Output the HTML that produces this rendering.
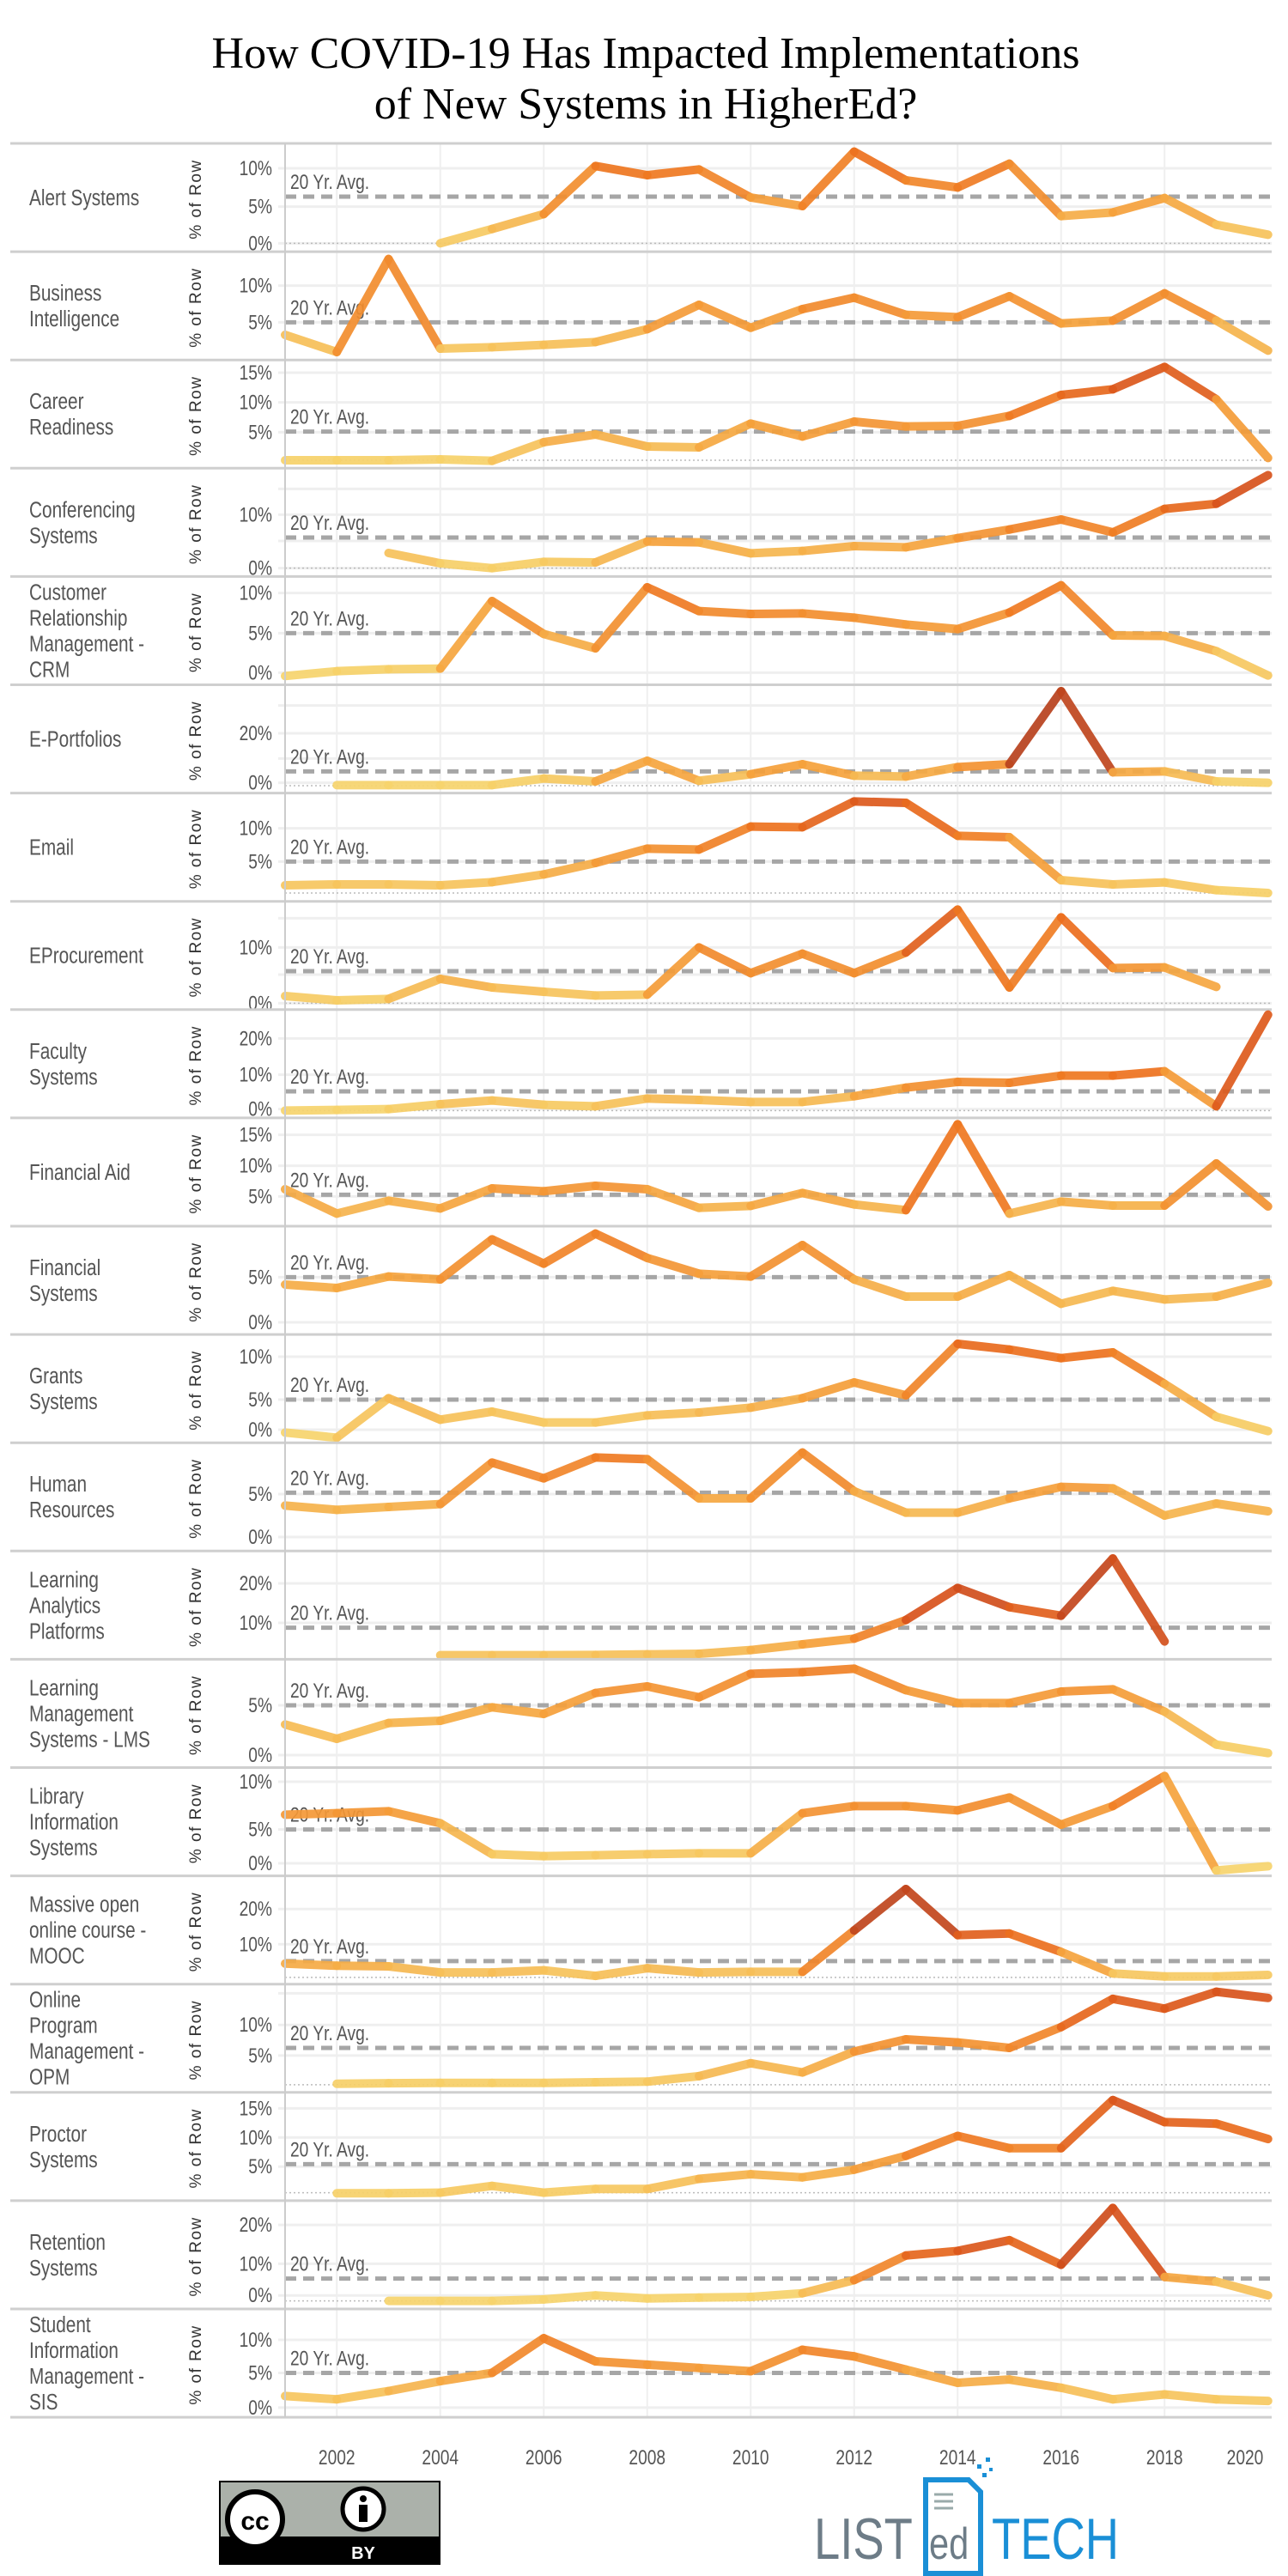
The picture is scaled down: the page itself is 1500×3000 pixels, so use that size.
<!DOCTYPE html>
<html><head><meta charset="utf-8"><style>
html,body{margin:0;padding:0;background:#fff;}
svg{display:block;}
</style></head><body>
<svg id="s" xmlns="http://www.w3.org/2000/svg" width="1500" height="3000" viewBox="0 0 1500 3000">
<rect width="1500" height="3000" fill="#fff"/>
<text x="752" y="79" text-anchor="middle" font-family="Liberation Serif, serif" font-size="52" fill="#000">How COVID-19 Has Impacted  Implementations</text>
<text x="752" y="138" text-anchor="middle" font-family="Liberation Serif, serif" font-size="52" fill="#000">of New Systems in HigherEd?</text>
<g id="g"></g>
<!-- CC logo -->
<g>
<rect x="256" y="2890" width="256" height="96" fill="#abb1aa" stroke="#000" stroke-width="2"/>
<rect x="256" y="2954" width="256" height="32" fill="#000"/>
<circle cx="297" cy="2934" r="32" fill="#fff" stroke="#000" stroke-width="6"/>
<text x="297" y="2946" text-anchor="middle" font-family="Liberation Sans, sans-serif" font-weight="bold" font-size="30" fill="#000">cc</text>
<circle cx="423" cy="2922" r="24" fill="#fff" stroke="#000" stroke-width="5"/>
<circle cx="423" cy="2910" r="4" fill="#000"/>
<rect x="418" y="2917" width="10" height="20" fill="#000"/>
<text x="423" y="2980" text-anchor="middle" font-family="Liberation Sans, sans-serif" font-weight="bold" font-size="20" fill="#fff">BY</text>
</g>
<!-- ListEdTech logo -->
<g>
<text x="948" y="2980" font-family="Liberation Sans, sans-serif" font-size="68" fill="#6d7c87" transform="translate(948,0) scale(0.8,1) translate(-948,0)">LIST</text>
<path d="M1078 2888 h50 l14 14 v95 h-64 z" fill="#fff" stroke="#1a8fd6" stroke-width="6"/>
<line x1="1088" y1="2905" x2="1110" y2="2905" stroke="#9aa" stroke-width="3"/>
<line x1="1088" y1="2913" x2="1110" y2="2913" stroke="#9aa" stroke-width="3"/>
<line x1="1088" y1="2921" x2="1110" y2="2921" stroke="#9aa" stroke-width="3"/>
<text x="1082" y="2980" font-family="Liberation Sans, sans-serif" font-size="52" fill="#6d7c87" transform="translate(1082,0) scale(0.8,1) translate(-1082,0)">ed</text>
<rect x="1138" y="2870" width="5" height="5" fill="#1a8fd6"/><rect x="1148" y="2862" width="5" height="5" fill="#1a8fd6"/><rect x="1144" y="2880" width="5" height="5" fill="#1a8fd6"/><rect x="1152" y="2874" width="4" height="4" fill="#1a8fd6"/>
<text x="1155" y="2980" font-family="Liberation Sans, sans-serif" font-size="68" fill="#1a8fd6" transform="translate(1155,0) scale(0.8,1) translate(-1155,0)">TECH</text>
</g>
</svg>
<script>
const NS="http://www.w3.org/2000/svg";
const g=document.getElementById('g');
function el(t,a,txt){const e=document.createElementNS(NS,t);for(const k in a)e.setAttribute(k,a[k]);if(txt!==undefined)e.textContent=txt;g.appendChild(e);return e;}
const X=i=>332+i*60.25;
const L=332,R=1481;
const P=[
["Alert Systems",160,3,[[10,108],[5,242],[0,370]],207,370,3,[370,320,268,100,132,112,210,240,50,150,175,92,275,262,212,305,340]],
["Business|Intelligence",160,3,[[10,518],[5,646]],646,null,0,[690,750,425,738,733,725,715,670,585,665,600,560,620,628,555,650,640,545,640,745]],
["Career|Readiness",160,3,[[15,822],[10,926],[5,1030]],1028,1128,0,[1128,1128,1128,1125,1130,1065,1038,1080,1083,1000,1045,993,1010,1008,973,900,880,802,915,1120]],
["Conferencing|Systems",160,3,[[15,1228,0],[10,1318],[5,1410,0],[0,1505]],1398,1505,2,[1452,1488,1505,1483,1485,1412,1415,1453,1445,1428,1432,1400,1370,1335,1380,1298,1280,1180]],
["Customer|Relationship|Management -|CRM",670,3,[[10,62],[5,202],[0,340]],202,null,0,[352,335,328,326,90,205,255,42,125,135,133,148,172,188,130,35,210,212,265,350]],
["E-Portfolios",670,3,[[30,455,0],[20,552],[10,640,0],[0,725]],685,735,1,[733,733,733,733,710,720,648,718,695,660,700,703,670,660,405,688,685,720,725]],
["Email",670,3,[[10,884],[5,1000]],1000,1110,0,[1083,1080,1080,1083,1072,1045,1005,955,958,878,880,790,795,910,915,1065,1080,1073,1100,1110]],
["EProcurement",670,3,[[15,1198,0],[10,1300],[5,1395,0],[0,1495]],1383,1495,0,[1470,1485,1480,1410,1440,1455,1468,1465,1300,1390,1322,1390,1318,1168,1440,1195,1372,1370,1438]],
["Faculty|Systems",1180,3,[[20,88],[10,215],[0,335]],273,340,0,[340,338,335,318,305,320,325,298,303,310,310,290,260,240,243,218,218,203,325,5]],
["Financial Aid",1180,3,[[15,425],[10,533],[5,640]],634,null,0,[615,700,655,682,612,622,603,615,680,673,628,668,688,388,700,658,672,672,525,675]],
["Financial|Systems",1180,3,[[5,922],[0,1080]],922,null,0,[948,960,920,930,790,875,770,855,910,920,810,930,990,990,915,1015,970,1000,990,942]],
["Grants|Systems",1180,3,[[10,1200],[5,1350],[0,1455]],1350,null,0,[1465,1483,1345,1420,1392,1430,1430,1405,1395,1378,1345,1290,1335,1155,1175,1205,1185,1295,1410,1460]],
["Human|Resources",1690,3,[[5,150],[0,300]],145,null,0,[190,205,195,185,40,95,22,28,165,165,5,140,215,215,165,125,130,225,183,210]],
["Learning|Analytics|Platforms",1690,3,[[20,462],[10,600]],617,null,3,[713,713,713,712,710,708,695,675,655,590,478,545,575,375,665]],
["Learning|Management|Systems - LMS",1690,3,[[5,888],[0,1062]],888,null,0,[955,1005,950,942,895,918,845,822,860,778,772,760,835,880,880,840,832,910,1025,1055]],
["Library|Information|Systems",1690,3,[[10,1155],[5,1322],[0,1440]],1322,null,0,[1270,1265,1258,1300,1408,1415,1412,1408,1405,1405,1265,1240,1240,1255,1210,1305,1240,1135,1465,1450]],
["Massive open|online course -|MOOC",2200,2.8,[[20,65],[10,180]],235,288,0,[243,250,252,272,272,265,283,258,272,270,270,135,0,150,145,205,275,285,285,280]],
["Online|Program|Management -|OPM",2200,2.8,[[15,340,0],[10,443],[5,543]],518,638,1,[635,633,632,632,632,630,628,610,568,598,530,490,500,518,450,358,390,335,355]],
["Proctor|Systems",2200,2.8,[[15,715],[10,810],[5,905]],897,990,1,[992,992,990,968,990,978,978,945,930,940,915,870,805,845,845,688,760,765,815]],
["Retention|Systems",2200,2.8,[[20,1095],[10,1222],[0,1325]],1270,1343,2,[1343,1343,1343,1338,1325,1335,1332,1330,1318,1275,1195,1180,1145,1225,1040,1265,1280,1325]],
["Student|Information|Management -|SIS",0,0.52,[[10,1417],[5,1437],[0,1458]],1437,1464,0,[1451,1453,1448,1442,1437,1416,1430,1432,1434,1436,1423,1427,1435,1443,1441,1446,1453,1450,1453,1454]]
];
const stops=[[0,[246,212,108]],[5,[245,162,60]],[10,[238,115,30]],[15,[215,82,28]],[25,[165,55,30]]];
function col(p){if(p<=0)return 'rgb(246,212,108)';for(let i=1;i<stops.length;i++){if(p<=stops[i][0]||i==stops.length-1){const a=stops[i-1],b=stops[i];let t=(p-a[0])/(b[0]-a[0]);t=Math.max(0,Math.min(1,t));const c=a[1].map((v,j)=>Math.round(v+(b[1][j]-v)*t));return 'rgb('+c.join(',')+')';}}}
const T0=167,H=126.1;
for(let k=0;k<21;k++){
 const T=T0+k*H,B=T+H;
 for(let y=2002;y<=2018;y+=2){el('line',{x1:X(y-2001),y1:T,x2:X(y-2001),y2:B,stroke:'#efefef','stroke-width':2});}
}
P.forEach((p,k)=>{
 const [name,y0,s,ticks,avg,dot,start,data]=p;
 const Y=v=>y0+v/s;
 const T=T0+k*H,B=T+H;
 ticks.forEach(t=>{const y=Y(t[1]);el('line',{x1:L-8,y1:y,x2:R,y2:y,stroke:'#efefef','stroke-width':3});
  if(t[2]!==0){el('text',{x:0,y:0,'text-anchor':'end',transform:`translate(317,${y+8}) scale(0.8,1)`,'font-family':'Liberation Sans, sans-serif','font-size':24,fill:'#555'},t[0]+'%');}});
 if(dot!==null)el('line',{x1:L,y1:Y(dot),x2:R,y2:Y(dot),stroke:'#bbb','stroke-width':1.5,'stroke-dasharray':'2 3'});
 const a=ticks[0],b=ticks[ticks.length-1];
 const pct=v=>a[0]+(v-a[1])*(b[0]-a[0])/(b[1]-a[1]);
 el('line',{x1:L,y1:Y(avg),x2:R,y2:Y(avg),stroke:'#a6a6a6','stroke-width':5,'stroke-dasharray':'13 8'});
 el('text',{x:0,y:0,transform:`translate(338,${Y(avg)-9}) scale(0.8,1)`,'font-family':'Liberation Sans, sans-serif','font-size':24,fill:'#555'},'20 Yr. Avg.');
 for(let i=0;i<data.length-1;i++){
  const x1=X(start+i),x2=X(start+i+1),ya=Y(data[i]),yb=Y(data[i+1]);
  const c=col((pct(data[i])+pct(data[i+1]))/2);
  el('line',{x1:x1,y1:ya,x2:x2,y2:yb,stroke:c,'stroke-width':10,'stroke-linecap':'round','stroke-opacity':0.92});
 }
 el('line',{x1:12,y1:B,x2:R,y2:B,stroke:'#cfcfcf','stroke-width':3});
 if(k==0)el('line',{x1:12,y1:T,x2:R,y2:T,stroke:'#cfcfcf','stroke-width':3});
 const lines=name.split('|');const cy=T+63;const st=cy-(lines.length-1)*15;
 lines.forEach((ln,j)=>el('text',{x:0,y:0,transform:`translate(34,${st+j*30+9}) scale(0.8,1)`,'font-family':'Liberation Sans, sans-serif','font-size':26,fill:'#555'},ln));
 el('text',{x:0,y:0,'text-anchor':'middle',transform:`translate(234,${T+65}) rotate(-90)`,'font-family':'Liberation Sans, sans-serif','font-size':19,'letter-spacing':'1.5',fill:'#333'},'% of Row');
});
el('line',{x1:L,y1:T0,x2:L,y2:T0+21*H,stroke:'#ccc','stroke-width':2});
for(let y=2002;y<=2020;y+=2){const x=y==2020?1450:X(y-2001);
 el('text',{x:0,y:0,'text-anchor':'middle',transform:`translate(${x},2870) scale(0.8,1)`,'font-family':'Liberation Sans, sans-serif','font-size':24,fill:'#555'},String(y));}
</script>
</body></html>
